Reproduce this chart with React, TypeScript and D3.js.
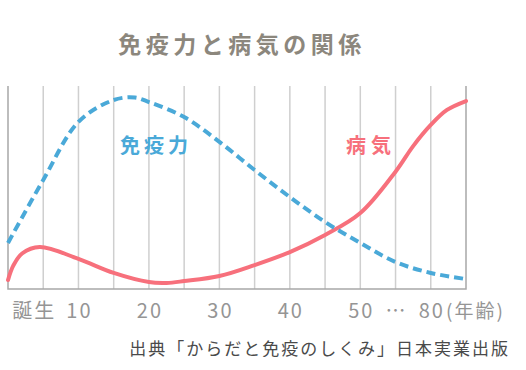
import React, { useEffect, useRef } from 'react';
import * as d3 from 'd3';

// grid positions (each step = one vertical gridline, 13 steps in total)
const immunePos = [0, 1, 2, 3, 3.6, 4, 5, 6, 7, 8, 9, 10, 11, 12, 13];
const immuneVal = [22.7, 53.7, 82.3, 93.1, 94.3, 92.1, 84.7, 72.5, 58.6, 45.3, 33.0, 22.7, 13.3, 7.9, 4.9];

const diseasePos = [0, 0.15, 0.4, 0.9, 2, 3, 4, 4.5, 5, 6, 7, 8, 9, 10, 11, 11.5, 12, 12.46, 13];
const diseaseVal = [4.4, 11.5, 17.5, 20.7, 14.8, 7.9, 3.4, 3.0, 3.9, 6.4, 11.8, 18.2, 26.6, 37.4, 57.8, 70.4, 80.8, 88.2, 92.6];

const tickLabels = ['誕生', '10', '20', '30', '40', '50', '…', '80'];
const tickPos = [0.72, 2, 4, 6, 8, 10, 11, 12];

const gridSteps = d3.range(0, 14);

function App() {
  const chartRef = useRef<SVGSVGElement>(null);

  useEffect(() => {
    const svg = d3.select(chartRef.current);
    svg.selectAll('*').remove();

    const left = 8, right = 466, top = 86, bottom = 289;
    const x = d3.scaleLinear().domain([0, 13]).range([left, right]);
    const y = d3.scaleLinear().domain([0, 100]).range([bottom, top]);
    const jp = '"Noto Sans CJK JP", sans-serif';

    svg.append('text')
      .attr('x', 242).attr('y', 53)
      .attr('text-anchor', 'middle')
      .style('font-family', jp).style('font-size', '23px').style('font-weight', 'bold')
      .style('letter-spacing', '4.5px')
      .attr('fill', '#8c877d')
      .text('免疫力と病気の関係');

    // vertical gridlines
    svg.append('g').selectAll('line')
      .data(gridSteps.slice(1, 13))
      .enter().append('line')
      .attr('x1', d => x(d)).attr('x2', d => x(d))
      .attr('y1', top).attr('y2', bottom)
      .attr('stroke', '#cfcfcf').attr('stroke-width', 1.5);

    // frame (left, bottom, right)
    svg.append('path')
      .attr('d', `M${left},${top}V${bottom}H${right}V${top}`)
      .attr('fill', 'none').attr('stroke', '#a8a8a8').attr('stroke-width', 1.5);

    const line = d3.line<[number, number]>()
      .x(d => x(d[0])).y(d => y(d[1]))
      .curve(d3.curveCatmullRom.alpha(0.5));

    svg.append('path')
      .attr('d', line(diseasePos.map((p, i) => [p, diseaseVal[i]]) as [number, number][]))
      .attr('fill', 'none').attr('stroke', '#f7707c').attr('stroke-width', 4)
      .attr('stroke-linecap', 'round');

    svg.append('path')
      .attr('d', line(immunePos.map((p, i) => [p, immuneVal[i]]) as [number, number][]))
      .attr('fill', 'none').attr('stroke', '#4aa9d8').attr('stroke-width', 4)
      .attr('stroke-dasharray', '9,5');

    svg.append('text')
      .attr('x', 120).attr('y', 153)
      .style('font-family', jp).style('font-size', '20px').style('font-weight', 'bold')
      .style('letter-spacing', '4px')
      .attr('fill', '#4aa9d8')
      .text('免疫力');

    svg.append('text')
      .attr('x', 346).attr('y', 153)
      .style('font-family', jp).style('font-size', '20px').style('font-weight', 'bold')
      .style('letter-spacing', '5px')
      .attr('fill', '#f7707c')
      .text('病気');

    // x tick labels
    svg.append('g').selectAll('text')
      .data(tickLabels)
      .enter().append('text')
      .attr('x', (d, i) => x(tickPos[i]) + 1)
      .attr('y', 318)
      .attr('text-anchor', 'middle')
      .style('font-family', jp).style('font-size', '20px')
      .style('letter-spacing', '2px')
      .attr('fill', '#959595')
      .text(d => d);

    svg.append('text')
      .attr('x', 446).attr('y', 318)
      .attr('text-anchor', 'start')
      .style('font-family', jp).style('font-size', '19px')
      .style('letter-spacing', '2px')
      .attr('fill', '#959595')
      .text('(年齢)');

    svg.append('text')
      .attr('x', 510).attr('y', 355)
      .attr('text-anchor', 'end')
      .style('font-family', jp).style('font-size', '17px')
      .style('letter-spacing', '2px')
      .attr('fill', '#4a4a4a')
      .text('出典「からだと免疫のしくみ」日本実業出版');
  }, []);

  return (
    <svg ref={chartRef} width={526} height={370}
      style={{ position: 'absolute', left: 0, top: 0, background: '#fff' }}></svg>
  );
}

export default App;
